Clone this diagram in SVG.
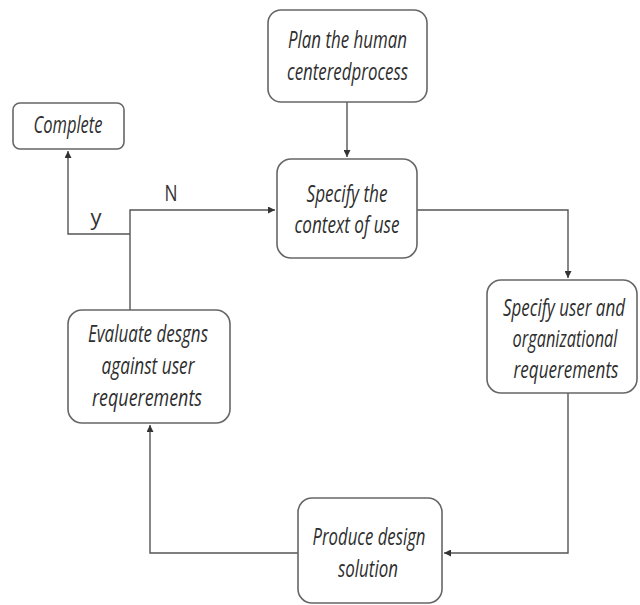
<svg xmlns="http://www.w3.org/2000/svg" width="640" height="605" viewBox="0 0 640 605">
<defs>
<marker id="ah" viewBox="0 0 10 10" refX="10" refY="5" markerWidth="7" markerHeight="7" markerUnits="userSpaceOnUse" orient="auto">
<path d="M0,0 L10,5 L0,10 z" fill="#333"/>
</marker>
<style>
.box{fill:#fff;stroke:#666;stroke-width:1.6}
.t{font-family:"Open Sans","Noto Sans","DejaVu Sans",sans-serif;font-style:italic;font-size:23px;fill:#2e2e2e;text-anchor:middle}
.lbl{font-family:"Open Sans","Noto Sans","DejaVu Sans",sans-serif;font-size:22px;fill:#333;text-anchor:middle}
.c{fill:none;stroke:#555;stroke-width:1.4}
</style>
</defs>
<rect width="640" height="605" fill="#fff"/>
<g id="connectors">
<path class="c" d="M347,102 V157" marker-end="url(#ah)"/>
<path class="c" d="M417,210 H568 V278" marker-end="url(#ah)"/>
<path class="c" d="M568,393 V553 H444" marker-end="url(#ah)"/>
<path class="c" d="M298,553 H150 V425" marker-end="url(#ah)"/>
<path class="c" d="M130,310 V210 H275" marker-end="url(#ah)"/>
<path class="c" d="M130,234 H68 V151" marker-end="url(#ah)"/>
<text class="lbl" x="171" y="201" textLength="13" lengthAdjust="spacingAndGlyphs">N</text>
<text class="lbl" x="96" y="225" textLength="11" lengthAdjust="spacingAndGlyphs">y</text>
</g>
<g id="plan">
<rect class="box" x="268" y="10" width="159" height="92" rx="13"/>
<text class="t" x="347.5" y="48" textLength="119" lengthAdjust="spacingAndGlyphs">Plan the human</text>
<text class="t" x="347.5" y="80" textLength="121" lengthAdjust="spacingAndGlyphs">centeredprocess</text>
</g>
<g id="complete">
<rect class="box" x="13" y="103" width="111" height="46" rx="7"/>
<text class="t" x="68" y="133" textLength="69" lengthAdjust="spacingAndGlyphs">Complete</text>
</g>
<g id="context">
<rect class="box" x="277" y="159" width="140" height="99" rx="14"/>
<text class="t" x="347" y="202" textLength="81" lengthAdjust="spacingAndGlyphs">Specify the</text>
<text class="t" x="347" y="233" textLength="105" lengthAdjust="spacingAndGlyphs">context of use</text>
</g>
<g id="requirements">
<rect class="box" x="487" y="280" width="150" height="113" rx="14"/>
<text class="t" transform="translate(564,316) scale(0.8,1)" x="0" y="0" textLength="152.5" lengthAdjust="spacingAndGlyphs">Specify user and</text>
<text class="t" transform="translate(565,347) scale(0.8,1)" x="0" y="0" textLength="131" lengthAdjust="spacingAndGlyphs">organizational</text>
<text class="t" transform="translate(566,378) scale(0.8,1)" x="0" y="0" textLength="131" lengthAdjust="spacingAndGlyphs">requerements</text>
</g>
<g id="evaluate">
<rect class="box" x="68" y="310" width="162" height="113" rx="14"/>
<text class="t" x="148" y="342" textLength="120" lengthAdjust="spacingAndGlyphs">Evaluate desgns</text>
<text class="t" x="148" y="374" textLength="93" lengthAdjust="spacingAndGlyphs">against user</text>
<text class="t" x="147" y="406" textLength="110" lengthAdjust="spacingAndGlyphs">requerements</text>
</g>
<g id="produce">
<rect class="box" x="298" y="498" width="144" height="105" rx="14"/>
<text class="t" x="369" y="545" textLength="113" lengthAdjust="spacingAndGlyphs">Produce design</text>
<text class="t" x="368" y="577" textLength="60" lengthAdjust="spacingAndGlyphs">solution</text>
</g>
</svg>
